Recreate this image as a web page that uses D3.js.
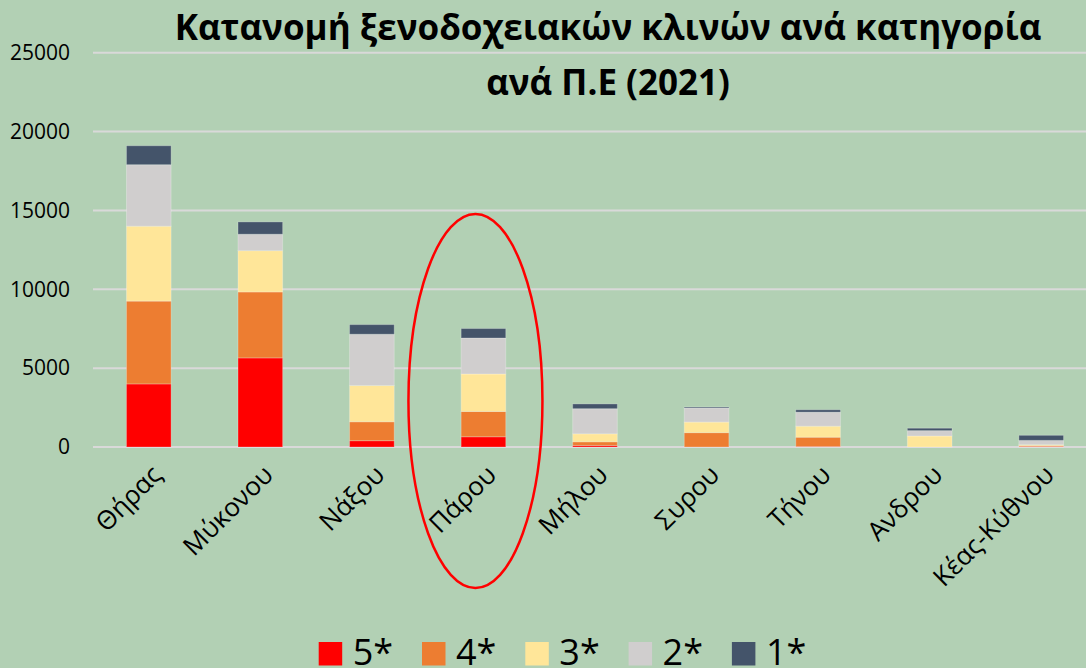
<!DOCTYPE html>
<html>
<head>
<meta charset="utf-8">
<script src="https://cdn.jsdelivr.net/npm/d3@7"></script>
<style>
  html, body { margin: 0; padding: 0; background: #b2d0b4; }
  svg { display: block; font-family: "Open Sans", sans-serif; }
</style>
</head>
<body>
<div id="chart"></div>
<script>
// categories (regional units) and bed counts per hotel category
const categories = ["Θήρας", "Μύκονου", "Νάξου", "Πάρου", "Μήλου", "Συρου", "Τήνου", "Ανδρου", "Κέας-Κύθνου"];
const star5 = [4000, 5650, 400, 650, 100, 0, 30, 0, 30];
const star4 = [5250, 4180, 1200, 1600, 230, 910, 590, 0, 60];
const star3 = [4750, 2620, 2300, 2380, 510, 670, 700, 700, 60];
const star2 = [3900, 1040, 3250, 2280, 1590, 890, 890, 340, 270];
const star1 = [1200, 780, 610, 600, 300, 60, 150, 150, 320];
const seriesNames = ["5*", "4*", "3*", "2*", "1*"];
const yTicks = [0, 5000, 10000, 15000, 20000, 25000];

const colors = ["#ff0000", "#ed7d31", "#ffe699", "#d0cece", "#44546a"];

const W = 1086, H = 668;

// build rows for the stack
const rows = categories.map((c, i) => ({
    cat: c,
    "5*": star5[i], "4*": star4[i], "3*": star3[i], "2*": star2[i], "1*": star1[i]
}));

const svg = d3.select("#chart")
    .append("svg")
    .attr("width", W)
    .attr("height", H);

svg.append("rect").attr("width", W).attr("height", H).attr("fill", "#b2d0b4");

const x = d3.scaleBand()
    .domain(categories)
    .range([93, 1097])
    .paddingInner(0.6)
    .paddingOuter(0.3);

const y = d3.scaleLinear()
    .domain([0, 25000])
    .range([447, 52.7]);

// gridlines
svg.append("g")
    .selectAll("line")
    .data(yTicks)
    .join("line")
    .attr("x1", 93)
    .attr("x2", W)
    .attr("y1", d => y(d))
    .attr("y2", d => y(d))
    .attr("stroke", "#d9d9d9")
    .attr("stroke-width", 2);

// y axis labels
svg.append("g")
    .selectAll("text")
    .data(yTicks)
    .join("text")
    .attr("x", 70)
    .attr("y", d => y(d))
    .attr("dy", "0.35em")
    .attr("text-anchor", "end")
    .style("font-size", "21px")
    .attr("fill", "#000")
    .text(d => d);

// stacked bars
const stack = d3.stack().keys(seriesNames)(rows);

svg.append("g")
    .selectAll("g")
    .data(stack)
    .join("g")
    .attr("fill", (d, i) => colors[i])
    .selectAll("rect")
    .data(d => d)
    .join("rect")
    .attr("x", d => x(d.data.cat))
    .attr("width", x.bandwidth())
    .attr("y", d => y(d[1]))
    .attr("height", d => y(d[0]) - y(d[1]))
    .attr("stroke", "#ffffff")
    .attr("stroke-opacity", 0.25)
    .attr("stroke-width", 1);

// x labels, rotated
svg.append("g")
    .selectAll("text")
    .data(categories)
    .join("text")
    .attr("transform", d => `translate(${x(d) + x.bandwidth() / 2 + 8},${470}) rotate(-45)`)
    .attr("text-anchor", "end")
    .attr("dy", "0.35em")
    .style("font-size", "26px")
    .attr("fill", "#000")
    .text(d => d);

// title
const title = svg.append("text")
    .attr("text-anchor", "middle")
    .style("font-size", "35px")
    .style("font-weight", "bold")
    .attr("fill", "#000");
title.append("tspan").attr("x", 608).attr("y", 40).text("Κατανομή ξενοδοχειακών κλινών ανά κατηγορία");
title.append("tspan").attr("x", 608).attr("y", 95).text("ανά Π.Ε (2021)");

// highlight ellipse around Πάρου
svg.append("ellipse")
    .attr("cx", x("Πάρου") + x.bandwidth() / 2 - 8)
    .attr("cy", y(0) - 46)
    .attr("rx", 67)
    .attr("ry", 187)
    .attr("fill", "none")
    .attr("stroke", "#ff0000")
    .attr("stroke-width", 2.5);

// legend
const legend = svg.append("g")
    .selectAll("g")
    .data(seriesNames)
    .join("g")
    .attr("transform", (d, i) => `translate(${318.7 + i * 103.3},0)`);

legend.append("rect")
    .attr("x", 0)
    .attr("y", 642)
    .attr("width", 23.5)
    .attr("height", 23.5)
    .attr("fill", (d, i) => colors[i]);

legend.append("text")
    .attr("x", 34)
    .attr("y", 665)
    .style("font-size", "36px")
    .attr("fill", "#000")
    .text(d => d);
</script>
</body>
</html>
